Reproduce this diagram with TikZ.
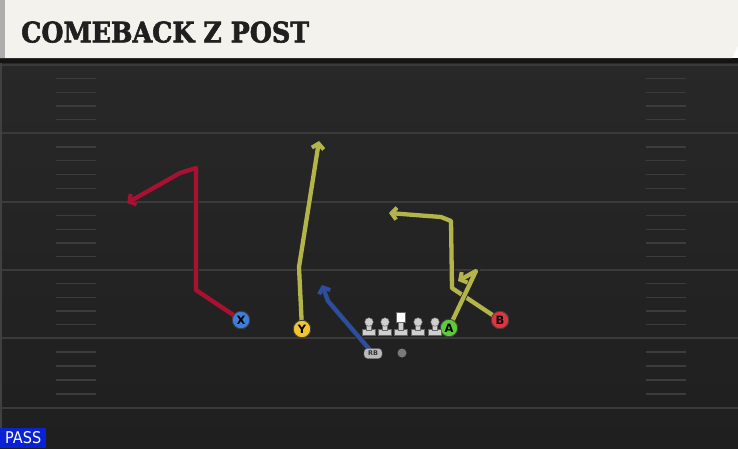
\documentclass[tikz,border=0pt]{standalone}
\usepackage{fontspec}
\setmainfont{DejaVu Sans}
\newfontfamily\titlefont{DejaVu Serif}[BoldFont={DejaVu Serif Bold}, BoldFeatures={FakeBold=2.2}]
\usetikzlibrary{arrows.meta}
\definecolor{cream}{HTML}{F4F2EC}
\definecolor{fieldtop}{HTML}{282828}
\definecolor{fieldbot}{HTML}{1F1F1F}
\definecolor{yardline}{HTML}{3A3A3A}
\definecolor{hashc}{HTML}{3C3C3C}
\definecolor{xred}{HTML}{A8112F}
\definecolor{olive}{HTML}{B3B44A}
\definecolor{rbblue}{HTML}{2C4E9C}
\definecolor{pblue}{HTML}{3E7FDB}
\definecolor{pyellow}{HTML}{F2C530}
\definecolor{pgreen}{HTML}{5DCB3B}
\definecolor{pred}{HTML}{E2343F}
\definecolor{passblue}{HTML}{0A22D4}
\definecolor{linegray}{HTML}{CFCFCF}
\pgfdeclarelayer{back}
\pgfdeclarelayer{routes}
\pgfsetlayers{back,routes,main}
\tikzset{
  player/.style={circle, draw=black!75, line width=0.9pt, minimum size=17.5pt, inner sep=0pt,
    font=\fontsize{11.5}{11.5}\selectfont\bfseries, text=black},
  route/.style={line width=4.3pt, line join=round, line cap=round,
    preaction={draw=black!85, line width=5.8pt}},
  tip/.style={-{Straight Barb[length=5pt,width=12pt,line width=4pt]}},
  yardstyle/.style={draw=yardline, line width=1.8pt},
  hashstyle/.style={draw=hashc, line width=1.4pt},
  lineman/.pic={
    \fill[linegray, draw=black!60, line width=0.4pt] (-6.5,7.5) rectangle (6.5,13.5);
    \fill[linegray, draw=black!60, line width=0.4pt] (-2.5,3) rectangle (2.5,8);
    \fill[linegray, draw=black!60, line width=0.4pt] (0,0) circle (4.3);
  },
  centerman/.pic={
    \fill[linegray, draw=black!60, line width=0.4pt] (-6.5,7.5) rectangle (6.5,13.5);
    \fill[linegray, draw=black!60, line width=0.4pt] (-2.5,0) rectangle (2.5,8);
    \fill[white, draw=black!60, line width=0.4pt] (-4.5,-9.5) rectangle (4.5,0);
  }
}
\begin{document}
\begin{tikzpicture}[x=1pt,y=-1pt]
\useasboundingbox (0,0) rectangle (738,448);
\begin{pgfonlayer}{back}
  \shade[top color=fieldtop, bottom color=fieldbot] (0,58) rectangle (738,448);
  \fill[black!92] (0,58) rectangle (738,63);
  \fill[cream] (0,0) -- (738,0) -- (738,46) -- (732,58) -- (0,58) -- cycle;
  \fill[black!32] (0,0) rectangle (5,58);
  \fill[black!75] (0,63) rectangle (2,448);
  \foreach \y in {65,133,202,270,338,408} {
    \draw[yardstyle] (2,\y) -- (738,\y);
  }
  \foreach \a/\b in {65/133,133/202,202/270,270/338,338/408} {
    \foreach \k in {1,2,3,4} {
      \pgfmathsetmacro\yy{\a+\k*(\b-\a)/5}
      \draw[hashstyle] (56,\yy) -- (96,\yy);
      \draw[hashstyle] (646,\yy) -- (686,\yy);
    }
  }
\end{pgfonlayer}

\node[anchor=south west, inner sep=0pt, text=black!88] (title) at (21,43)
  {\resizebox{288pt}{21pt}{\titlefont\bfseries COMEBACK Z POST}};
\node[anchor=south west, fill=passblue, text=white, minimum width=46pt, minimum height=20pt, inner sep=0pt] (pass) at (0,448)
  {\resizebox{36pt}{12pt}{PASS}};

% players
\node[player, fill=pblue] (X) at (241,320) {X};
\node[player, fill=pyellow] (Y) at (302,329) {Y};
\node[player, fill=pgreen] (A) at (449,328) {A};
\node[player, fill=pred] (B) at (500,320) {B};
\node[fill=black!27, draw=black!60, line width=0.4pt, rounded corners=3.5pt, minimum width=18pt, minimum height=10pt, inner sep=0pt,
  font=\fontsize{6.5}{6.5}\selectfont\bfseries, text=black!80] (RB) at (373,353.5) {RB};
\node[circle, fill=black!52, minimum size=9pt, inner sep=0pt] (QB) at (402,353) {};

% line
\pic at (369,322) {lineman};
\pic at (385,322) {lineman};
\pic at (401,322) {centerman};
\pic at (418,322) {lineman};
\pic at (435,322) {lineman};

% waypoints
\coordinate (x1) at (196,290);
\coordinate (x2) at (196,168);
\coordinate (x3) at (180,173);
\coordinate (x4) at (127,203);
\coordinate (y1) at (299,267);
\coordinate (y2) at (319,141);
\coordinate (r1) at (328,301);
\coordinate (r2) at (322,285);
\coordinate (a1) at (476,271);
\coordinate (a2) at (458,281);
\coordinate (b1) at (452,288);
\coordinate (b2) at (451,221);
\coordinate (b3) at (441,217);
\coordinate (b4) at (389,213);

\begin{pgfonlayer}{routes}
  \draw[route, xred, tip] (X.center) -- (x1) -- (x2) -- (x3) -- (x4);
  \draw[route, olive, tip] (Y.center) -- (y1) -- (y2);
  \draw[route, rbblue, tip] (RB.center) -- (r1) -- (r2);
  \draw[route, olive, tip] (B.center) -- (b1) -- (b2) -- (b3) -- (b4);
  \draw[route, olive, tip] (A.center) -- (a1) -- (a2);
\end{pgfonlayer}
\end{tikzpicture}
\end{document}
